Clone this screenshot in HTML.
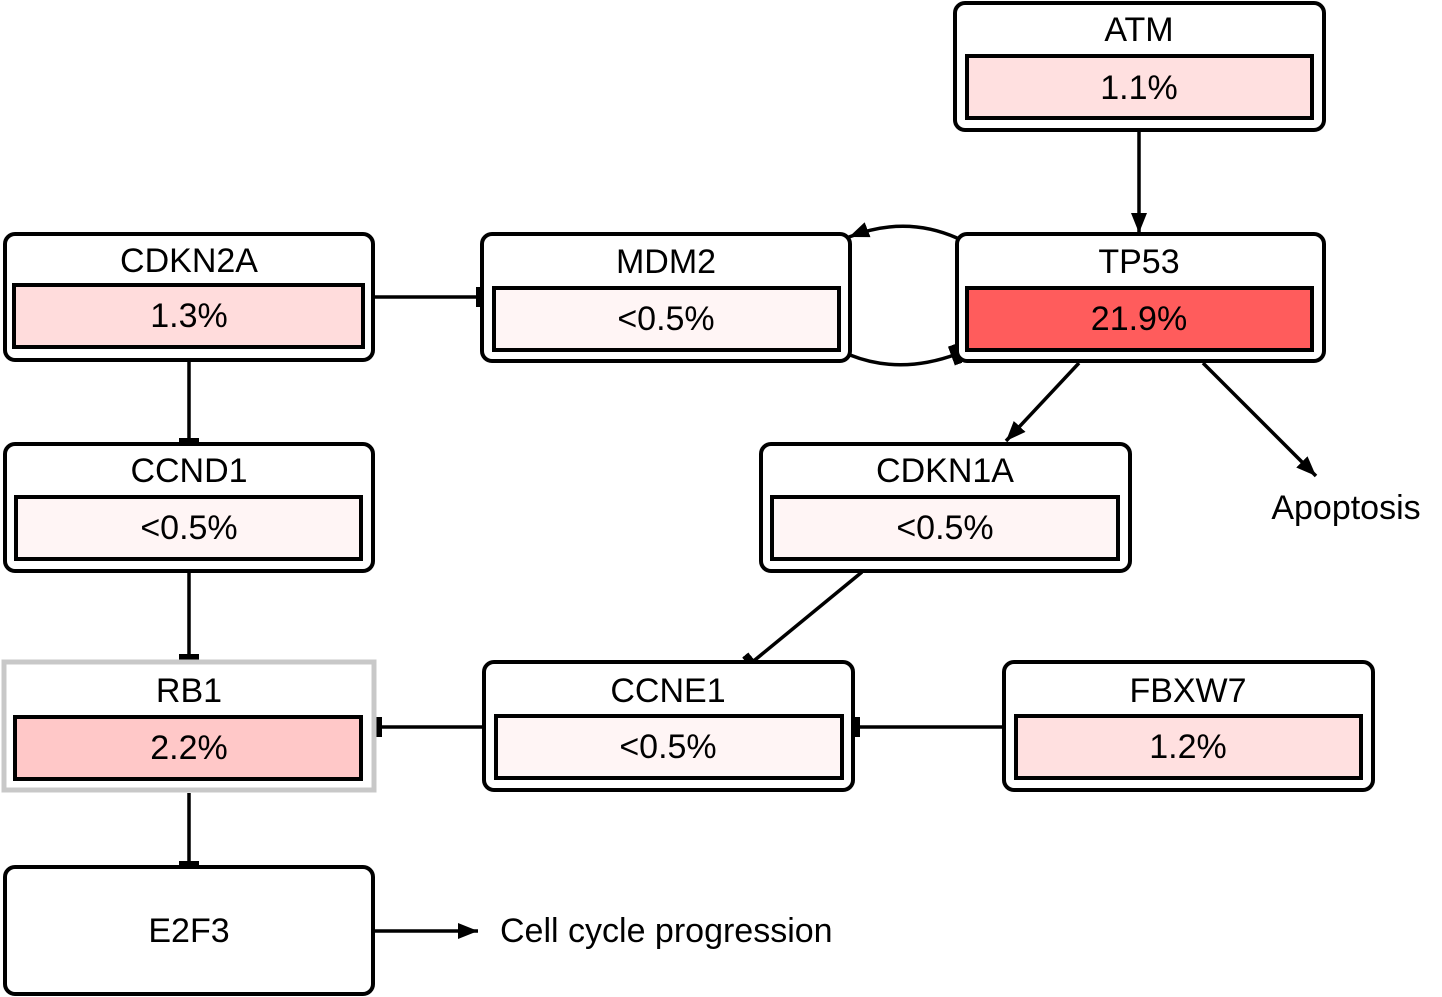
<!DOCTYPE html>
<html><head><meta charset="utf-8"><style>
html,body{margin:0;padding:0;background:#fff;}
svg{display:block;font-family:"Liberation Sans",Arial,sans-serif;}
text{font-size:34px;text-anchor:middle;fill:#000;}
</style></head><body>
<svg width="1442" height="997" viewBox="0 0 1442 997">
<defs>
<marker id="arrow" viewBox="0 0 20 20" refX="20" refY="10" markerWidth="20" markerHeight="20" orient="auto" markerUnits="userSpaceOnUse"><path d="M0,2 L20,10 L0,18 z" fill="#000"/></marker>
<marker id="tee" viewBox="0 0 8 20" refX="6" refY="10" markerWidth="8" markerHeight="20" orient="auto" markerUnits="userSpaceOnUse"><rect x="0" y="0" width="8" height="20" fill="#000"/></marker>
</defs>
<g stroke="#000" stroke-width="3.5" fill="none">
<line x1="1139" y1="131" x2="1139" y2="233" marker-end="url(#arrow)"/>
<line x1="374" y1="297" x2="482" y2="297" marker-end="url(#tee)"/>
<path d="M957,238 Q905,215 849,237" marker-end="url(#arrow)"/>
<path d="M850,355 Q900,375 957,354" marker-end="url(#tee)"/>
<line x1="1079" y1="363" x2="1006" y2="441" marker-end="url(#arrow)"/>
<line x1="1203" y1="363" x2="1316" y2="476" marker-end="url(#arrow)"/>
<line x1="189" y1="361" x2="189" y2="444" marker-end="url(#tee)"/>
<line x1="189" y1="572" x2="189" y2="660" marker-end="url(#tee)"/>
<line x1="862" y1="572" x2="750" y2="664" marker-end="url(#tee)"/>
<line x1="484" y1="727" x2="376" y2="727" marker-end="url(#tee)"/>
<line x1="1004" y1="727" x2="854" y2="727" marker-end="url(#tee)"/>
<line x1="189" y1="793" x2="189" y2="867" marker-end="url(#tee)"/>
<line x1="375" y1="931" x2="478" y2="931" marker-end="url(#arrow)"/>
</g>
<rect x="4" y="662" width="370" height="128" fill="#fff" stroke="#c8c8c8" stroke-width="5"/>
<g><rect x="955" y="3" width="369" height="127" rx="10" fill="#fff" stroke="#000" stroke-width="4"/><text x="1139" y="41">ATM</text><rect x="967" y="56" width="345" height="62" fill="#ffe0e0" stroke="#000" stroke-width="4"/><text x="1139" y="99">1.1%</text></g>
<g><rect x="5" y="234" width="368" height="126" rx="10" fill="#fff" stroke="#000" stroke-width="4"/><text x="189" y="272">CDKN2A</text><rect x="14" y="285" width="349" height="62" fill="#ffdcdc" stroke="#000" stroke-width="4"/><text x="189" y="327">1.3%</text></g>
<g><rect x="482" y="234" width="368" height="127" rx="10" fill="#fff" stroke="#000" stroke-width="4"/><text x="666" y="273">MDM2</text><rect x="494" y="288" width="345" height="62" fill="#fff5f5" stroke="#000" stroke-width="4"/><text x="666" y="330">&lt;0.5%</text></g>
<g><rect x="957" y="234" width="367" height="127" rx="10" fill="#fff" stroke="#000" stroke-width="4"/><text x="1139" y="273">TP53</text><rect x="967" y="288" width="345" height="62" fill="#ff5c5c" stroke="#000" stroke-width="4"/><text x="1139" y="330">21.9%</text></g>
<g><rect x="5" y="444" width="368" height="127" rx="10" fill="#fff" stroke="#000" stroke-width="4"/><text x="189" y="482">CCND1</text><rect x="16" y="497" width="345" height="62" fill="#fff5f5" stroke="#000" stroke-width="4"/><text x="189" y="539">&lt;0.5%</text></g>
<g><rect x="761" y="444" width="369" height="127" rx="10" fill="#fff" stroke="#000" stroke-width="4"/><text x="945" y="482">CDKN1A</text><rect x="772" y="497" width="346" height="62" fill="#fff5f5" stroke="#000" stroke-width="4"/><text x="945" y="539">&lt;0.5%</text></g>
<g><text x="189" y="702">RB1</text><rect x="15" y="717" width="346" height="62" fill="#ffc8c8" stroke="#000" stroke-width="4"/><text x="189" y="759">2.2%</text></g>
<g><rect x="484" y="662" width="369" height="128" rx="10" fill="#fff" stroke="#000" stroke-width="4"/><text x="668" y="702">CCNE1</text><rect x="496" y="716" width="346" height="62" fill="#fff5f5" stroke="#000" stroke-width="4"/><text x="668" y="758">&lt;0.5%</text></g>
<g><rect x="1004" y="662" width="369" height="128" rx="10" fill="#fff" stroke="#000" stroke-width="4"/><text x="1188" y="702">FBXW7</text><rect x="1016" y="716" width="345" height="62" fill="#ffe0e0" stroke="#000" stroke-width="4"/><text x="1188" y="758">1.2%</text></g>
<g><rect x="5" y="867" width="368" height="127" rx="10" fill="#fff" stroke="#000" stroke-width="4"/><text x="189" y="942">E2F3</text></g>
<text x="1346" y="519">Apoptosis</text>
<text x="500" y="942" style="text-anchor:start">Cell cycle progression</text>
</svg>
</body></html>
